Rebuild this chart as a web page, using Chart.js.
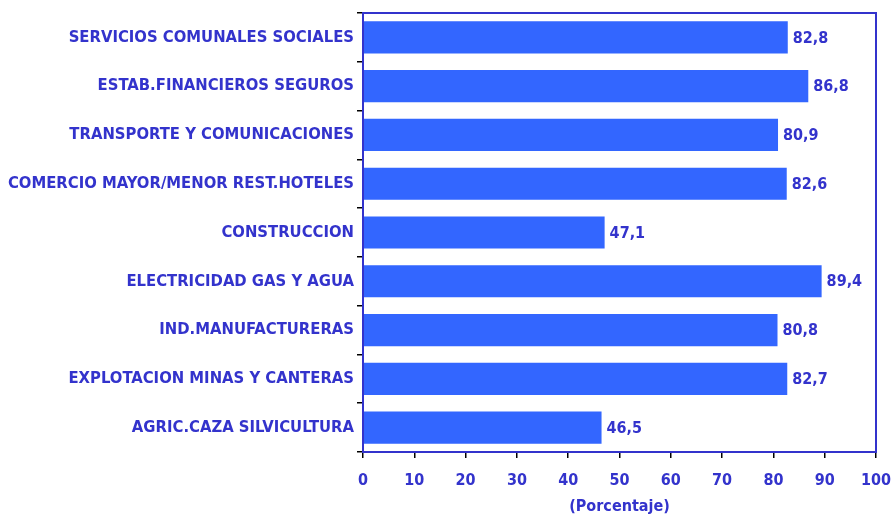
<!DOCTYPE html>
<html>
<head>
<meta charset="utf-8">
<script src="https://cdn.jsdelivr.net/npm/chart.js@4"></script>
<style>
    html, body { margin: 0; padding: 0; background: #ffffff; }
    #wrap { width: 894px; height: 514px; }
</style>
</head>
<body>
<div id="wrap"><canvas id="grafico" width="894" height="514"></canvas></div>
<script>
// Datos (porcentaje por rama de actividad)
const ramas = [
    "SERVICIOS COMUNALES SOCIALES",
    "ESTAB.FINANCIEROS SEGUROS",
    "TRANSPORTE Y COMUNICACIONES",
    "COMERCIO MAYOR/MENOR REST.HOTELES",
    "CONSTRUCCION",
    "ELECTRICIDAD GAS Y AGUA",
    "IND.MANUFACTURERAS",
    "EXPLOTACION MINAS Y CANTERAS",
    "AGRIC.CAZA SILVICULTURA"
];
const valores = [82.8, 86.8, 80.9, 82.6, 47.1, 89.4, 80.8, 82.7, 46.5];
const ticksX = [0, 10, 20, 30, 40, 50, 60, 70, 80, 90, 100];

const AZUL_TEXTO = "#3333cc";
const AZUL_BARRA = "#3366ff";
const FUENTE = "'DejaVu Sans Condensed', 'DejaVu Sans', sans-serif";

// Marco del area de trazado
const marcoPlugin = {
    id: "marco",
    afterDraw(chart) {
        const a = chart.chartArea;
        const ctx = chart.ctx;
        ctx.save();
        ctx.strokeStyle = AZUL_TEXTO;
        ctx.lineWidth = 2;
        ctx.strokeRect(a.left, a.top, a.right - a.left, a.bottom - a.top);
        ctx.restore();
    }
};

// Etiquetas de valor al final de cada barra
const etiquetasPlugin = {
    id: "etiquetas",
    afterDatasetsDraw(chart) {
        const ctx = chart.ctx;
        const meta = chart.getDatasetMeta(0);
        ctx.save();
        ctx.font = "bold 16px " + FUENTE;
        ctx.fillStyle = AZUL_TEXTO;
        ctx.textAlign = "left";
        ctx.textBaseline = "middle";
        meta.data.forEach((bar, i) => {
            const txt = valores[i].toFixed(1).replace(".", ",");
            ctx.fillText(txt, bar.x + 5, bar.y + 1);
        });
        ctx.restore();
    }
};

new Chart(document.getElementById("grafico").getContext("2d"), {
    type: "bar",
    data: {
        labels: ramas,
        datasets: [{
            data: valores,
            backgroundColor: AZUL_BARRA,
            borderWidth: 0,
            categoryPercentage: 1.0,
            barPercentage: 0.66
        }]
    },
    options: {
        indexAxis: "y",
        responsive: false,
        animation: false,
        layout: { padding: { top: 13, right: 18, left: 0, bottom: 0 } },
        plugins: {
            legend: { display: false },
            tooltip: { enabled: false }
        },
        scales: {
            x: {
                min: 0,
                max: 100,
                afterBuildTicks: (scale) => { scale.ticks = ticksX.map(v => ({ value: v })); },
                afterFit: (scale) => {
                    scale.height = 514 - 452;
                    scale.paddingLeft = 0;
                    scale.paddingRight = 0;
                },
                grid: {
                    drawOnChartArea: false,
                    drawTicks: true,
                    tickLength: 6,
                    color: "#000000",
                    lineWidth: 1.5
                },
                border: { color: AZUL_TEXTO, width: 2 },
                ticks: {
                    color: AZUL_TEXTO,
                    padding: 13,
                    font: { family: FUENTE, weight: "bold", size: 16 }
                },
                title: {
                    display: true,
                    text: "(Porcentaje)",
                    color: AZUL_TEXTO,
                    padding: { top: 5, bottom: -2 },
                    font: { family: FUENTE, weight: "bold", size: 16 }
                }
            },
            y: {
                afterFit: (scale) => { scale.width = 363; },
                grid: {
                    offset: true,
                    drawOnChartArea: false,
                    drawTicks: true,
                    tickLength: 6,
                    color: "#000000",
                    lineWidth: 1.5
                },
                border: { color: AZUL_TEXTO, width: 2 },
                ticks: {
                    color: AZUL_TEXTO,
                    padding: 3,
                    font: { family: FUENTE, weight: "bold", size: 16.5 }
                }
            }
        }
    },
    plugins: [marcoPlugin, etiquetasPlugin]
});
</script>
</body>
</html>
